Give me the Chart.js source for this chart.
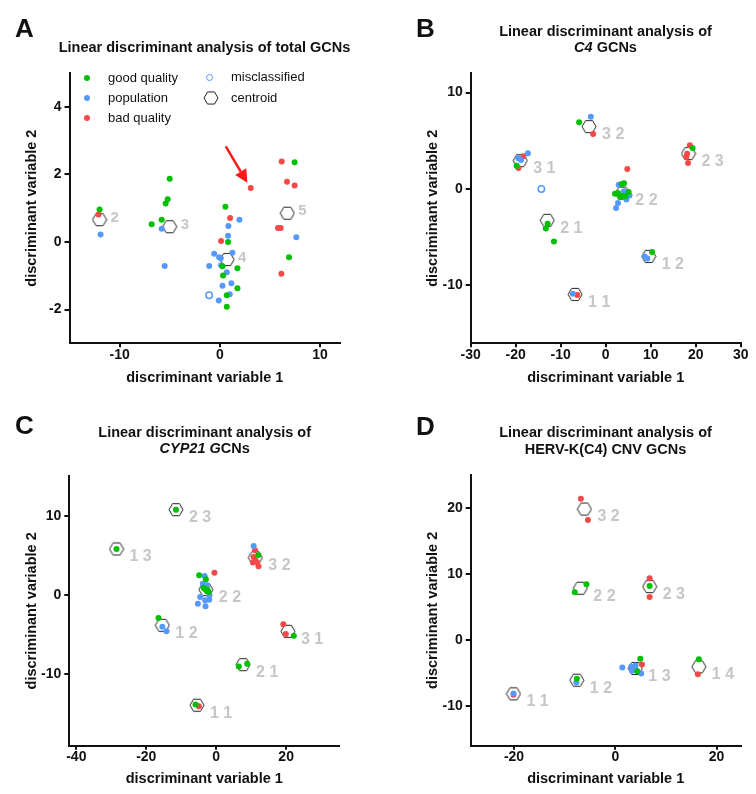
<!DOCTYPE html>
<html>
<head>
<meta charset="utf-8">
<script src="https://cdn.jsdelivr.net/npm/chart.js"></script>
<style>
  body { margin: 0; background: #fff; font-family: "Liberation Sans", Arial, sans-serif; color: #111; }
  #page { position: relative; width: 756px; height: 794px; overflow: hidden; }
  canvas { position: absolute; }
  .letter { position: absolute; font-size: 26px; font-weight: bold; line-height: 26px; }
  .title { position: absolute; width: 300px; text-align: center; font-size: 14.5px; font-weight: bold; line-height: 16.5px; }
  .leg { position: absolute; font-size: 13px; line-height: 20px; height: 20px; white-space: nowrap; }
  .dot { position: absolute; width: 6px; height: 6px; border-radius: 50%; }
</style>
</head>
<body>
<div id="page">
  <canvas id="chartA" width="378" height="397" style="left:0;top:0"></canvas>
  <canvas id="chartB" width="378" height="397" style="left:378px;top:0"></canvas>
  <canvas id="chartC" width="378" height="397" style="left:0;top:397px"></canvas>
  <canvas id="chartD" width="378" height="397" style="left:378px;top:397px"></canvas>

  <div class="letter" style="left:15px;top:14.6px">A</div>
  <div class="letter" style="left:416px;top:14.6px">B</div>
  <div class="letter" style="left:15px;top:411.6px">C</div>
  <div class="letter" style="left:416px;top:412.6px">D</div>

  <div class="title" style="left:54.5px;top:39.3px">Linear discriminant analysis of total GCNs</div>
  <div class="title" style="left:455.5px;top:22.8px">Linear discriminant analysis of<br><i>C4</i> GCNs</div>
  <div class="title" style="left:54.7px;top:423.8px">Linear discriminant analysis of<br><i>CYP21 G</i>CNs</div>
  <div class="title" style="left:455.5px;top:424.3px">Linear discriminant analysis of<br>HERV-K(C4) CNV GCNs</div>

  <!-- legend of panel A -->
  <div class="dot" style="left:84px;top:75px;background:#00c000"></div>
  <div class="leg" style="left:108px;top:67.5px">good quality</div>
  <div class="dot" style="left:84px;top:95px;background:#5599ff"></div>
  <div class="leg" style="left:108px;top:88px">population</div>
  <div class="dot" style="left:84px;top:115px;background:#f54848"></div>
  <div class="leg" style="left:108px;top:108px">bad quality</div>
  <div class="dot" style="left:206px;top:73.5px;width:5px;height:5px;border:1.5px solid #5599ff"></div>
  <div class="leg" style="left:231px;top:67px">misclassified</div>
  <svg style="position:absolute;left:203px;top:91px" width="16" height="14">
    <polygon points="15,7 11.5,13.06 4.5,13.06 1,7 4.5,0.94 11.5,0.94" fill="none" stroke="#222" stroke-width="1"/>
  </svg>
  <div class="leg" style="left:231px;top:88px">centroid</div>
</div>

<script>
// ---- data ----
// A: total GCNs
const aGood = [[-12.0,0.96],[-5.0,1.87],[-5.2,1.26],[-5.4,1.14],[-5.8,0.66],[-6.8,0.52],[0.56,1.04],[0.83,0.0],[0.27,-0.72],[1.76,-0.78],[0.33,-0.99],[1.76,-1.37],[0.7,-1.58],[0.7,-1.92],[7.47,2.36],[6.91,-0.45]];
const aPop = [[-11.9,0.22],[-5.8,0.39],[-5.5,-0.71],[1.96,0.66],[0.86,0.47],[0.83,0.18],[1.26,-0.32],[-0.56,-0.35],[-0.07,-0.45],[0.1,-0.48],[-1.06,-0.71],[0.13,-0.69],[0.7,-0.9],[0.27,-1.3],[1.16,-1.22],[1.0,-1.55],[-0.1,-1.73],[7.64,0.14]];
const aBad = [[-12.1,0.81],[1.03,0.71],[0.13,0.03],[6.18,2.38],[6.71,1.78],[7.47,1.67],[3.09,1.6],[5.81,0.41],[6.08,0.41],[6.15,-0.94]];
const aMis = [[-1.06,-1.58]];
const aCentroids = [[-12.0,0.66],[-5.0,0.45],[0.73,-0.52],[6.74,0.85]];
const aLabels = ['2', '3', '4', '5'];
const aArrow = [[0.6,2.83],[2.75,1.75]];
const aXTicks = [-10, 0, 10];
const aYTicks = [-2, 0, 2, 4];

// B: C4 GCNs
const bGood = [[-19.8,2.42],[-5.9,6.92],[19.3,4.26],[3.6,0.52],[4.07,0.59],[2.07,-0.48],[2.74,-0.42],[3.2,-0.83],[4.37,-0.76],[5.1,-0.31],[3.85,-0.69],[-12.9,-3.6],[-13.3,-4.1],[-11.5,-5.43],[10.3,-6.54]];
const bPop = [[-17.3,3.7],[-19.4,3.18],[-18.8,3.0],[-3.3,7.5],[2.9,0.45],[4.07,-0.24],[4.6,-1.1],[5.3,-0.66],[2.74,-1.45],[2.3,-1.97],[8.67,-6.99],[9.26,-7.2],[-7.3,-10.87]];
const bBad = [[-18.3,3.4],[-19.4,2.18],[-2.8,5.7],[18.7,4.53],[18.1,3.67],[17.9,3.32],[18.3,2.7],[4.8,2.08],[-6.3,-11.0]];
const bMis = [[-14.3,0.0]];
const bCentroids = [[-19.0,2.94],[-3.7,6.47],[18.4,3.67],[3.7,-0.42],[-13.0,-3.25],[9.56,-6.99],[-6.8,-10.93]];
const bLabels = ['3 1', '3 2', '2 3', '2 2', '2 1', '1 2', '1 1'];
const bXTicks = [-30, -20, -10, 0, 10, 20, 30];
const bYTicks = [-10, 0, 10];

// C: CYP21 GCNs
const cGood = [[-11.5,10.76],[-28.5,5.8],[12.0,5.0],[-4.86,2.48],[-2.95,1.97],[-3.6,0.92],[-3.3,0.8],[-2.7,0.5],[-2.48,0.67],[-2.19,0.38],[-16.5,-2.9],[22.2,-5.13],[6.48,-9.03],[8.86,-8.66],[-5.9,-13.82]];
const cPop = [[10.7,6.18],[-3.3,2.4],[-3.8,1.43],[-2.67,1.22],[-1.9,-0.04],[-4.57,-0.25],[-3.14,-0.67],[-5.24,-1.09],[-3.05,-1.43],[-2.0,-0.59],[-15.4,-4.0],[-14.2,-4.58]];
const cBad = [[11.1,5.63],[10.7,4.79],[10.5,4.08],[11.6,4.16],[12.1,3.61],[11.1,4.37],[-0.5,2.8],[19.2,-3.7],[19.9,-4.92],[-4.95,-14.03]];
const cCentroids = [[-11.5,10.76],[-28.5,5.8],[11.2,4.7],[-2.95,0.67],[-15.4,-3.82],[20.5,-4.58],[7.7,-8.78],[-5.5,-13.9]];
const cLabels = ['2 3', '1 3', '3 2', '2 2', '1 2', '3 1', '2 1', '1 1'];
const cXTicks = [-40, -20, 0, 20];
const cYTicks = [-10, 0, 10];

// D: HERV-K(C4) CNV GCNs
const dGood = [[-8.0,7.24],[-5.7,8.46],[6.78,8.2],[4.93,-2.84],[4.34,-4.71],[16.5,-2.89],[-7.6,-5.87]];
const dPop = [[1.38,-4.15],[4.0,-3.85],[3.16,-4.05],[3.3,-4.66],[4.14,-4.56],[5.13,-5.06],[3.68,-4.3],[-7.7,-6.43],[-20.1,-8.1]];
const dBad = [[-6.8,21.4],[-5.4,18.2],[6.78,9.37],[6.78,6.53],[5.26,-3.7],[16.3,-5.16],[-20.1,-8.3]];
const dCentroids = [[-6.1,19.85],[-6.9,7.85],[6.78,8.1],[3.95,-4.3],[16.5,-4.05],[-7.6,-6.08],[-20.1,-8.15]];
const dLabels = ['3 2', '2 2', '2 3', '1 3', '1 4', '1 2', '1 1'];
const dXTicks = [-20, 0, 20];
const dYTicks = [-10, 0, 10, 20];

const GREEN = '#00c000', BLUE = '#5599ff', RED = '#f54848';
const FONT = '"Liberation Sans", Arial, sans-serif';
Chart.defaults.font.family = FONT;
Chart.defaults.color = '#111';

// centroid marker: hexagon with points left/right
function hexagon(r) {
  const c = document.createElement('canvas');
  c.width = Math.ceil(2 * r + 2);
  c.height = Math.ceil(2 * r * 0.866 + 2);
  const g = c.getContext('2d');
  g.strokeStyle = '#222';
  g.lineWidth = 1;
  g.beginPath();
  for (let k = 0; k < 6; k++) {
    const a = k * Math.PI / 3;
    const px = c.width / 2 + r * Math.cos(a), py = c.height / 2 + r * Math.sin(a);
    if (k) g.lineTo(px, py); else g.moveTo(px, py);
  }
  g.closePath();
  g.stroke();
  return c;
}
const hex = hexagon(7);

const pts = arr => arr.map(p => ({x: p[0], y: p[1]}));

// grey cluster names next to the centroids (+ the red arrow in A)
function clusterLabels(centroids, labels, dx, dy, size, arrow) {
  return {
    id: 'clusterLabels',
    afterDatasetsDraw(chart) {
      const {ctx, scales: {x, y}} = chart;
      ctx.save();
      ctx.font = 'bold ' + size + 'px ' + FONT;
      ctx.fillStyle = '#c6c6c6';
      ctx.textBaseline = 'middle';
      centroids.forEach((p, i) => {
        ctx.fillText(labels[i], x.getPixelForValue(p[0]) + dx, y.getPixelForValue(p[1]) + dy);
      });
      if (arrow) {
        const x0 = x.getPixelForValue(arrow[0][0]), y0 = y.getPixelForValue(arrow[0][1]);
        const x1 = x.getPixelForValue(arrow[1][0]), y1 = y.getPixelForValue(arrow[1][1]);
        const ang = Math.atan2(y1 - y0, x1 - x0);
        const hl = 13, hw = 6.5;
        const bx = x1 - hl * Math.cos(ang), by = y1 - hl * Math.sin(ang);
        ctx.strokeStyle = '#ff1a1a';
        ctx.fillStyle = '#ff1a1a';
        ctx.lineWidth = 2.5;
        ctx.beginPath();
        ctx.moveTo(x0, y0);
        ctx.lineTo(bx, by);
        ctx.stroke();
        ctx.beginPath();
        ctx.moveTo(x1, y1);
        ctx.lineTo(bx + hw * Math.sin(ang), by - hw * Math.cos(ang));
        ctx.lineTo(bx - hw * Math.sin(ang), by + hw * Math.cos(ang));
        ctx.closePath();
        ctx.fill();
      }
      ctx.restore();
    }
  };
}

function axis(min, max, ticks, fit, title, titlePad, isX) {
  return {
    type: 'linear',
    min: min,
    max: max,
    afterBuildTicks: s => { s.ticks = ticks.map(v => ({value: v})); },
    afterFit: s => { if (isX) s.height = fit; else s.width = fit; },
    grid: { drawOnChartArea: false, drawTicks: true, tickLength: isX ? 4 : 5, color: '#111', lineWidth: 2 },
    border: { display: true, color: '#111', width: 2 },
    ticks: { font: { size: 14, weight: 'bold' }, color: '#111', padding: isX ? -1 : 3, maxRotation: 0 },
    title: { display: true, text: title, font: { size: 14.5, weight: 'bold' }, color: '#111', padding: titlePad }
  };
}

function makeChart(id, s) {
  const datasets = [
    { label: 'good quality', data: pts(s.good), backgroundColor: GREEN, pointRadius: 3, borderWidth: 0 },
    { label: 'population', data: pts(s.pop), backgroundColor: BLUE, pointRadius: 3, borderWidth: 0 },
    { label: 'bad quality', data: pts(s.bad), backgroundColor: RED, pointRadius: 3, borderWidth: 0 },
    { label: 'misclassified', data: pts(s.mis || []), backgroundColor: '#fff', borderColor: BLUE, pointRadius: 3.2, borderWidth: 1.5 },
    { label: 'centroid', data: pts(s.centroids), pointStyle: hex, pointRadius: 7 }
  ];
  return new Chart(document.getElementById(id), {
    type: 'scatter',
    data: { datasets: datasets },
    options: {
      responsive: false,
      animation: false,
      events: [],
      layout: { padding: { top: s.top, right: s.right, left: 0, bottom: 0 } },
      plugins: { legend: { display: false }, tooltip: { enabled: false } },
      scales: {
        x: axis(s.xMin, s.xMax, s.xTicks, s.xFit, 'discriminant variable 1', { bottom: s.xTitlePad, top: 0 }, true),
        y: axis(s.yMin, s.yMax, s.yTicks, s.yFit, 'discriminant variable 2', { top: s.yTitlePad, bottom: 0 }, false)
      }
    },
    plugins: [clusterLabels(s.centroids, s.labels, s.dx, s.dy, s.labelSize, s.arrow)]
  });
}

makeChart('chartA', {
  good: aGood, pop: aPop, bad: aBad, mis: aMis, centroids: aCentroids, labels: aLabels, arrow: aArrow,
  xMin: -15, xMax: 12, yMin: -3, yMax: 5, xTicks: aXTicks, yTicks: aYTicks,
  top: 73, right: 38, yFit: 69.5, xFit: 53.7, yTitlePad: 23.3, xTitlePad: 10.3,
  dx: 11, dy: -2, labelSize: 15
});
makeChart('chartB', {
  good: bGood, pop: bPop, bad: bBad, mis: bMis, centroids: bCentroids, labels: bLabels,
  xMin: -30, xMax: 30, yMin: -16, yMax: 12, xTicks: bXTicks, yTicks: bYTicks,
  top: 73.3, right: 15.3, yFit: 92.7, xFit: 53.7, yTitlePad: 46.3, xTitlePad: 10.3,
  dx: 13, dy: 8, labelSize: 16
});
makeChart('chartC', {
  good: cGood, pop: cPop, bad: cBad, centroids: cCentroids, labels: cLabels,
  xMin: -42, xMax: 35.2, yMin: -19, yMax: 15, xTicks: cXTicks, yTicks: cYTicks,
  top: 79, right: 38.7, yFit: 69.3, xFit: 48.3, yTitlePad: 23.3, xTitlePad: 6,
  dx: 13, dy: 8, labelSize: 16
});
makeChart('chartD', {
  good: dGood, pop: dPop, bad: dBad, centroids: dCentroids, labels: dLabels,
  xMin: -28.55, xMax: 24.76, yMin: -16, yMax: 25, xTicks: dXTicks, yTicks: dYTicks,
  top: 78, right: 15.3, yFit: 92.7, xFit: 48.3, yTitlePad: 46.3, xTitlePad: 6,
  dx: 13, dy: 8, labelSize: 16
});
</script>
</body>
</html>
